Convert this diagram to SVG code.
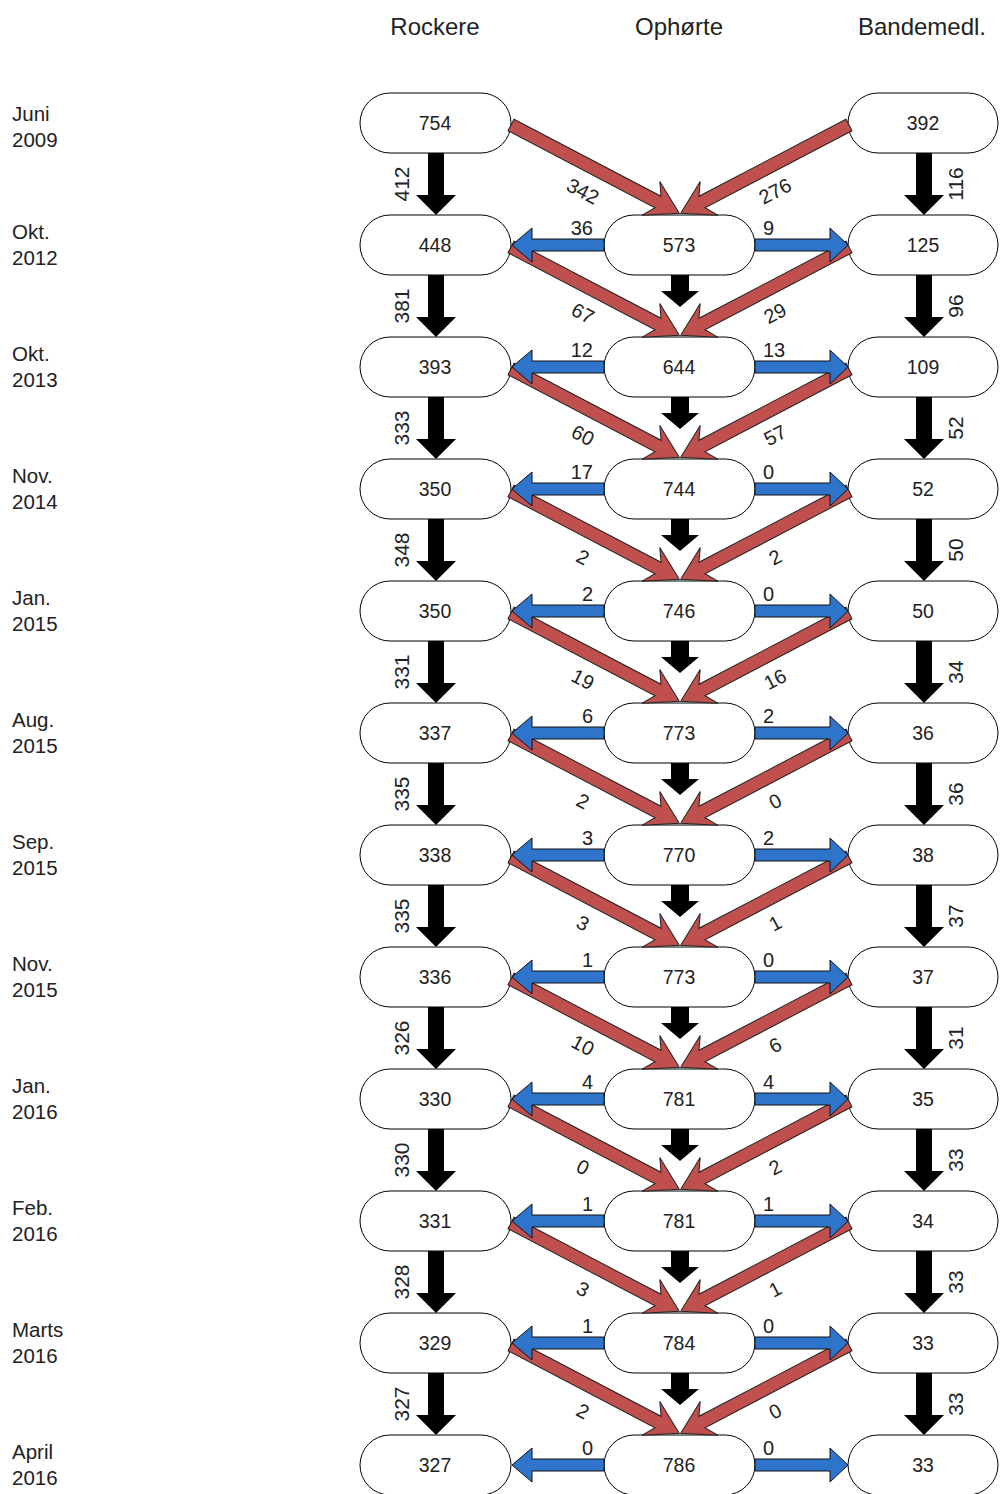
<svg xmlns="http://www.w3.org/2000/svg" xmlns:xlink="http://www.w3.org/1999/xlink" width="1000" height="1494" viewBox="0 0 1000 1494">
<style>
text{font-family:"Liberation Sans",Arial,sans-serif;fill:#222}
.hdr{font-size:24px;text-anchor:middle}
.row{font-size:20.5px}
.nt{font-size:19.5px;text-anchor:middle}
.lab{font-size:20px}
.vl{font-size:21px;text-anchor:middle}
.rl{font-size:20px;text-anchor:middle}
.node rect{fill:#fff;stroke:#000;stroke-width:1}
.red{fill:#C0504D;stroke:#222;stroke-width:1}
.blue{fill:#2F74CB;stroke:#111;stroke-width:1}
.blk{fill:#000}
</style>
<defs>
<path id="ra" d="M0,-6.5 L166,-6.5 L158,-19 L190,0 L158,19 L166,6.5 L0,6.5 Z"/>
<path id="bl" d="M92,-6 L20,-6 L20,-17 L0,0 L20,17 L20,6 L92,6 Z"/>
<path id="br" d="M0,-6 L75,-6 L75,-17 L93,0 L75,17 L75,6 L0,6 Z"/>
<path id="kd" d="M-8,30 L8,30 L8,72 L20,72 L0,92 L-20,72 L-8,72 Z"/>
<path id="km" d="M-9,30 L9,30 L9,46 L19,46 L0,62 L-19,46 L-9,46 Z"/>
</defs>

<g id="headers">
<text class="hdr" x="435" y="35">Rockere</text>
<text class="hdr" x="679" y="35">Ophørte</text>
<text class="hdr" x="922" y="35">Bandemedl.</text>
</g>

<g id="row-labels">
<text class="row" x="12" y="121">Juni</text><text class="row" x="12" y="147">2009</text>
<text class="row" x="12" y="239">Okt.</text><text class="row" x="12" y="265">2012</text>
<text class="row" x="12" y="361">Okt.</text><text class="row" x="12" y="387">2013</text>
<text class="row" x="12" y="483">Nov.</text><text class="row" x="12" y="509">2014</text>
<text class="row" x="12" y="605">Jan.</text><text class="row" x="12" y="631">2015</text>
<text class="row" x="12" y="727">Aug.</text><text class="row" x="12" y="753">2015</text>
<text class="row" x="12" y="849">Sep.</text><text class="row" x="12" y="875">2015</text>
<text class="row" x="12" y="971">Nov.</text><text class="row" x="12" y="997">2015</text>
<text class="row" x="12" y="1093">Jan.</text><text class="row" x="12" y="1119">2016</text>
<text class="row" x="12" y="1215">Feb.</text><text class="row" x="12" y="1241">2016</text>
<text class="row" x="12" y="1337">Marts</text><text class="row" x="12" y="1363">2016</text>
<text class="row" x="12" y="1459">April</text><text class="row" x="12" y="1485">2016</text>
</g>

<g id="nodes">
<g id="r0-rockere" class="node"><rect x="360" y="93" width="151" height="60" rx="30"/><text class="nt" x="435" y="130">754</text></g>
<g id="r0-bande" class="node"><rect x="848" y="93" width="150" height="60" rx="30"/><text class="nt" x="923" y="130">392</text></g>

<g id="r1-rockere" class="node"><rect x="360" y="215" width="151" height="60" rx="30"/><text class="nt" x="435" y="252">448</text></g>
<g id="r1-ophoerte" class="node"><rect x="604" y="215" width="151" height="60" rx="30"/><text class="nt" x="679" y="252">573</text></g>
<g id="r1-bande" class="node"><rect x="848" y="215" width="150" height="60" rx="30"/><text class="nt" x="923" y="252">125</text></g>

<g id="r2-rockere" class="node"><rect x="360" y="337" width="151" height="60" rx="30"/><text class="nt" x="435" y="374">393</text></g>
<g id="r2-ophoerte" class="node"><rect x="604" y="337" width="151" height="60" rx="30"/><text class="nt" x="679" y="374">644</text></g>
<g id="r2-bande" class="node"><rect x="848" y="337" width="150" height="60" rx="30"/><text class="nt" x="923" y="374">109</text></g>

<g id="r3-rockere" class="node"><rect x="360" y="459" width="151" height="60" rx="30"/><text class="nt" x="435" y="496">350</text></g>
<g id="r3-ophoerte" class="node"><rect x="604" y="459" width="151" height="60" rx="30"/><text class="nt" x="679" y="496">744</text></g>
<g id="r3-bande" class="node"><rect x="848" y="459" width="150" height="60" rx="30"/><text class="nt" x="923" y="496">52</text></g>

<g id="r4-rockere" class="node"><rect x="360" y="581" width="151" height="60" rx="30"/><text class="nt" x="435" y="618">350</text></g>
<g id="r4-ophoerte" class="node"><rect x="604" y="581" width="151" height="60" rx="30"/><text class="nt" x="679" y="618">746</text></g>
<g id="r4-bande" class="node"><rect x="848" y="581" width="150" height="60" rx="30"/><text class="nt" x="923" y="618">50</text></g>

<g id="r5-rockere" class="node"><rect x="360" y="703" width="151" height="60" rx="30"/><text class="nt" x="435" y="740">337</text></g>
<g id="r5-ophoerte" class="node"><rect x="604" y="703" width="151" height="60" rx="30"/><text class="nt" x="679" y="740">773</text></g>
<g id="r5-bande" class="node"><rect x="848" y="703" width="150" height="60" rx="30"/><text class="nt" x="923" y="740">36</text></g>

<g id="r6-rockere" class="node"><rect x="360" y="825" width="151" height="60" rx="30"/><text class="nt" x="435" y="862">338</text></g>
<g id="r6-ophoerte" class="node"><rect x="604" y="825" width="151" height="60" rx="30"/><text class="nt" x="679" y="862">770</text></g>
<g id="r6-bande" class="node"><rect x="848" y="825" width="150" height="60" rx="30"/><text class="nt" x="923" y="862">38</text></g>

<g id="r7-rockere" class="node"><rect x="360" y="947" width="151" height="60" rx="30"/><text class="nt" x="435" y="984">336</text></g>
<g id="r7-ophoerte" class="node"><rect x="604" y="947" width="151" height="60" rx="30"/><text class="nt" x="679" y="984">773</text></g>
<g id="r7-bande" class="node"><rect x="848" y="947" width="150" height="60" rx="30"/><text class="nt" x="923" y="984">37</text></g>

<g id="r8-rockere" class="node"><rect x="360" y="1069" width="151" height="60" rx="30"/><text class="nt" x="435" y="1106">330</text></g>
<g id="r8-ophoerte" class="node"><rect x="604" y="1069" width="151" height="60" rx="30"/><text class="nt" x="679" y="1106">781</text></g>
<g id="r8-bande" class="node"><rect x="848" y="1069" width="150" height="60" rx="30"/><text class="nt" x="923" y="1106">35</text></g>

<g id="r9-rockere" class="node"><rect x="360" y="1191" width="151" height="60" rx="30"/><text class="nt" x="435" y="1228">331</text></g>
<g id="r9-ophoerte" class="node"><rect x="604" y="1191" width="151" height="60" rx="30"/><text class="nt" x="679" y="1228">781</text></g>
<g id="r9-bande" class="node"><rect x="848" y="1191" width="150" height="60" rx="30"/><text class="nt" x="923" y="1228">34</text></g>

<g id="r10-rockere" class="node"><rect x="360" y="1313" width="151" height="60" rx="30"/><text class="nt" x="435" y="1350">329</text></g>
<g id="r10-ophoerte" class="node"><rect x="604" y="1313" width="151" height="60" rx="30"/><text class="nt" x="679" y="1350">784</text></g>
<g id="r10-bande" class="node"><rect x="848" y="1313" width="150" height="60" rx="30"/><text class="nt" x="923" y="1350">33</text></g>

<g id="r11-rockere" class="node"><rect x="360" y="1435" width="151" height="60" rx="30"/><text class="nt" x="435" y="1472">327</text></g>
<g id="r11-ophoerte" class="node"><rect x="604" y="1435" width="151" height="60" rx="30"/><text class="nt" x="679" y="1472">786</text></g>
<g id="r11-bande" class="node"><rect x="848" y="1435" width="150" height="60" rx="30"/><text class="nt" x="923" y="1472">33</text></g>
</g>

<g id="connectors">
<g class="red">
<use xlink:href="#ra" href="#ra" transform="translate(511,125) rotate(27.65)"/>
<use xlink:href="#ra" href="#ra" transform="translate(849,125) scale(-1,1) rotate(27.65)"/>
<use xlink:href="#ra" href="#ra" transform="translate(511,247) rotate(27.65)"/>
<use xlink:href="#ra" href="#ra" transform="translate(849,247) scale(-1,1) rotate(27.65)"/>
<use xlink:href="#ra" href="#ra" transform="translate(511,369) rotate(27.65)"/>
<use xlink:href="#ra" href="#ra" transform="translate(849,369) scale(-1,1) rotate(27.65)"/>
<use xlink:href="#ra" href="#ra" transform="translate(511,491) rotate(27.65)"/>
<use xlink:href="#ra" href="#ra" transform="translate(849,491) scale(-1,1) rotate(27.65)"/>
<use xlink:href="#ra" href="#ra" transform="translate(511,613) rotate(27.65)"/>
<use xlink:href="#ra" href="#ra" transform="translate(849,613) scale(-1,1) rotate(27.65)"/>
<use xlink:href="#ra" href="#ra" transform="translate(511,735) rotate(27.65)"/>
<use xlink:href="#ra" href="#ra" transform="translate(849,735) scale(-1,1) rotate(27.65)"/>
<use xlink:href="#ra" href="#ra" transform="translate(511,857) rotate(27.65)"/>
<use xlink:href="#ra" href="#ra" transform="translate(849,857) scale(-1,1) rotate(27.65)"/>
<use xlink:href="#ra" href="#ra" transform="translate(511,979) rotate(27.65)"/>
<use xlink:href="#ra" href="#ra" transform="translate(849,979) scale(-1,1) rotate(27.65)"/>
<use xlink:href="#ra" href="#ra" transform="translate(511,1101) rotate(27.65)"/>
<use xlink:href="#ra" href="#ra" transform="translate(849,1101) scale(-1,1) rotate(27.65)"/>
<use xlink:href="#ra" href="#ra" transform="translate(511,1223) rotate(27.65)"/>
<use xlink:href="#ra" href="#ra" transform="translate(849,1223) scale(-1,1) rotate(27.65)"/>
<use xlink:href="#ra" href="#ra" transform="translate(511,1345) rotate(27.65)"/>
<use xlink:href="#ra" href="#ra" transform="translate(849,1345) scale(-1,1) rotate(27.65)"/>
</g>
<g class="blue">
<use xlink:href="#bl" href="#bl" transform="translate(512,245)"/><use xlink:href="#br" href="#br" transform="translate(755,245)"/>
<use xlink:href="#bl" href="#bl" transform="translate(512,367)"/><use xlink:href="#br" href="#br" transform="translate(755,367)"/>
<use xlink:href="#bl" href="#bl" transform="translate(512,489)"/><use xlink:href="#br" href="#br" transform="translate(755,489)"/>
<use xlink:href="#bl" href="#bl" transform="translate(512,611)"/><use xlink:href="#br" href="#br" transform="translate(755,611)"/>
<use xlink:href="#bl" href="#bl" transform="translate(512,733)"/><use xlink:href="#br" href="#br" transform="translate(755,733)"/>
<use xlink:href="#bl" href="#bl" transform="translate(512,855)"/><use xlink:href="#br" href="#br" transform="translate(755,855)"/>
<use xlink:href="#bl" href="#bl" transform="translate(512,977)"/><use xlink:href="#br" href="#br" transform="translate(755,977)"/>
<use xlink:href="#bl" href="#bl" transform="translate(512,1099)"/><use xlink:href="#br" href="#br" transform="translate(755,1099)"/>
<use xlink:href="#bl" href="#bl" transform="translate(512,1221)"/><use xlink:href="#br" href="#br" transform="translate(755,1221)"/>
<use xlink:href="#bl" href="#bl" transform="translate(512,1343)"/><use xlink:href="#br" href="#br" transform="translate(755,1343)"/>
<use xlink:href="#bl" href="#bl" transform="translate(512,1465)"/><use xlink:href="#br" href="#br" transform="translate(755,1465)"/>
</g>
<g class="blk">
<use xlink:href="#kd" href="#kd" transform="translate(436,123)"/><use xlink:href="#kd" href="#kd" transform="translate(924,123)"/>
<use xlink:href="#kd" href="#kd" transform="translate(436,245)"/><use xlink:href="#kd" href="#kd" transform="translate(924,245)"/><use xlink:href="#km" href="#km" transform="translate(680,245)"/>
<use xlink:href="#kd" href="#kd" transform="translate(436,367)"/><use xlink:href="#kd" href="#kd" transform="translate(924,367)"/><use xlink:href="#km" href="#km" transform="translate(680,367)"/>
<use xlink:href="#kd" href="#kd" transform="translate(436,489)"/><use xlink:href="#kd" href="#kd" transform="translate(924,489)"/><use xlink:href="#km" href="#km" transform="translate(680,489)"/>
<use xlink:href="#kd" href="#kd" transform="translate(436,611)"/><use xlink:href="#kd" href="#kd" transform="translate(924,611)"/><use xlink:href="#km" href="#km" transform="translate(680,611)"/>
<use xlink:href="#kd" href="#kd" transform="translate(436,733)"/><use xlink:href="#kd" href="#kd" transform="translate(924,733)"/><use xlink:href="#km" href="#km" transform="translate(680,733)"/>
<use xlink:href="#kd" href="#kd" transform="translate(436,855)"/><use xlink:href="#kd" href="#kd" transform="translate(924,855)"/><use xlink:href="#km" href="#km" transform="translate(680,855)"/>
<use xlink:href="#kd" href="#kd" transform="translate(436,977)"/><use xlink:href="#kd" href="#kd" transform="translate(924,977)"/><use xlink:href="#km" href="#km" transform="translate(680,977)"/>
<use xlink:href="#kd" href="#kd" transform="translate(436,1099)"/><use xlink:href="#kd" href="#kd" transform="translate(924,1099)"/><use xlink:href="#km" href="#km" transform="translate(680,1099)"/>
<use xlink:href="#kd" href="#kd" transform="translate(436,1221)"/><use xlink:href="#kd" href="#kd" transform="translate(924,1221)"/><use xlink:href="#km" href="#km" transform="translate(680,1221)"/>
<use xlink:href="#kd" href="#kd" transform="translate(436,1343)"/><use xlink:href="#kd" href="#kd" transform="translate(924,1343)"/><use xlink:href="#km" href="#km" transform="translate(680,1343)"/>
</g>

<g id="black-labels">
<text class="vl" transform="translate(401,184) rotate(-90)" dy="0.36em">412</text><text class="vl" transform="translate(955,184) rotate(-90)" dy="0.36em">116</text>
<text class="vl" transform="translate(401,306) rotate(-90)" dy="0.36em">381</text><text class="vl" transform="translate(955,306) rotate(-90)" dy="0.36em">96</text>
<text class="vl" transform="translate(401,428) rotate(-90)" dy="0.36em">333</text><text class="vl" transform="translate(955,428) rotate(-90)" dy="0.36em">52</text>
<text class="vl" transform="translate(401,550) rotate(-90)" dy="0.36em">348</text><text class="vl" transform="translate(955,550) rotate(-90)" dy="0.36em">50</text>
<text class="vl" transform="translate(401,672) rotate(-90)" dy="0.36em">331</text><text class="vl" transform="translate(955,672) rotate(-90)" dy="0.36em">34</text>
<text class="vl" transform="translate(401,794) rotate(-90)" dy="0.36em">335</text><text class="vl" transform="translate(955,794) rotate(-90)" dy="0.36em">36</text>
<text class="vl" transform="translate(401,916) rotate(-90)" dy="0.36em">335</text><text class="vl" transform="translate(955,916) rotate(-90)" dy="0.36em">37</text>
<text class="vl" transform="translate(401,1038) rotate(-90)" dy="0.36em">326</text><text class="vl" transform="translate(955,1038) rotate(-90)" dy="0.36em">31</text>
<text class="vl" transform="translate(401,1160) rotate(-90)" dy="0.36em">330</text><text class="vl" transform="translate(955,1160) rotate(-90)" dy="0.36em">33</text>
<text class="vl" transform="translate(401,1282) rotate(-90)" dy="0.36em">328</text><text class="vl" transform="translate(955,1282) rotate(-90)" dy="0.36em">33</text>
<text class="vl" transform="translate(401,1404) rotate(-90)" dy="0.36em">327</text><text class="vl" transform="translate(955,1404) rotate(-90)" dy="0.36em">33</text>
</g>

<g id="red-labels">
<text class="rl" transform="translate(583,191) rotate(27.65)" dy="0.36em">342</text><text class="rl" transform="translate(775,191) rotate(-27.65)" dy="0.36em">276</text>
<text class="rl" transform="translate(583,313) rotate(27.65)" dy="0.36em">67</text><text class="rl" transform="translate(775,313) rotate(-27.65)" dy="0.36em">29</text>
<text class="rl" transform="translate(583,435) rotate(27.65)" dy="0.36em">60</text><text class="rl" transform="translate(775,435) rotate(-27.65)" dy="0.36em">57</text>
<text class="rl" transform="translate(583,557) rotate(27.65)" dy="0.36em">2</text><text class="rl" transform="translate(775,557) rotate(-27.65)" dy="0.36em">2</text>
<text class="rl" transform="translate(583,679) rotate(27.65)" dy="0.36em">19</text><text class="rl" transform="translate(775,679) rotate(-27.65)" dy="0.36em">16</text>
<text class="rl" transform="translate(583,801) rotate(27.65)" dy="0.36em">2</text><text class="rl" transform="translate(775,801) rotate(-27.65)" dy="0.36em">0</text>
<text class="rl" transform="translate(583,923) rotate(27.65)" dy="0.36em">3</text><text class="rl" transform="translate(775,923) rotate(-27.65)" dy="0.36em">1</text>
<text class="rl" transform="translate(583,1045) rotate(27.65)" dy="0.36em">10</text><text class="rl" transform="translate(775,1045) rotate(-27.65)" dy="0.36em">6</text>
<text class="rl" transform="translate(583,1167) rotate(27.65)" dy="0.36em">0</text><text class="rl" transform="translate(775,1167) rotate(-27.65)" dy="0.36em">2</text>
<text class="rl" transform="translate(583,1289) rotate(27.65)" dy="0.36em">3</text><text class="rl" transform="translate(775,1289) rotate(-27.65)" dy="0.36em">1</text>
<text class="rl" transform="translate(583,1411) rotate(27.65)" dy="0.36em">2</text><text class="rl" transform="translate(775,1411) rotate(-27.65)" dy="0.36em">0</text>
</g>

<g id="blue-labels">
<text class="lab" x="593" y="235" text-anchor="end">36</text><text class="lab" x="763" y="235">9</text>
<text class="lab" x="593" y="357" text-anchor="end">12</text><text class="lab" x="763" y="357">13</text>
<text class="lab" x="593" y="479" text-anchor="end">17</text><text class="lab" x="763" y="479">0</text>
<text class="lab" x="593" y="601" text-anchor="end">2</text><text class="lab" x="763" y="601">0</text>
<text class="lab" x="593" y="723" text-anchor="end">6</text><text class="lab" x="763" y="723">2</text>
<text class="lab" x="593" y="845" text-anchor="end">3</text><text class="lab" x="763" y="845">2</text>
<text class="lab" x="593" y="967" text-anchor="end">1</text><text class="lab" x="763" y="967">0</text>
<text class="lab" x="593" y="1089" text-anchor="end">4</text><text class="lab" x="763" y="1089">4</text>
<text class="lab" x="593" y="1211" text-anchor="end">1</text><text class="lab" x="763" y="1211">1</text>
<text class="lab" x="593" y="1333" text-anchor="end">1</text><text class="lab" x="763" y="1333">0</text>
<text class="lab" x="593" y="1455" text-anchor="end">0</text><text class="lab" x="763" y="1455">0</text>
</g>
</g>
</svg>
